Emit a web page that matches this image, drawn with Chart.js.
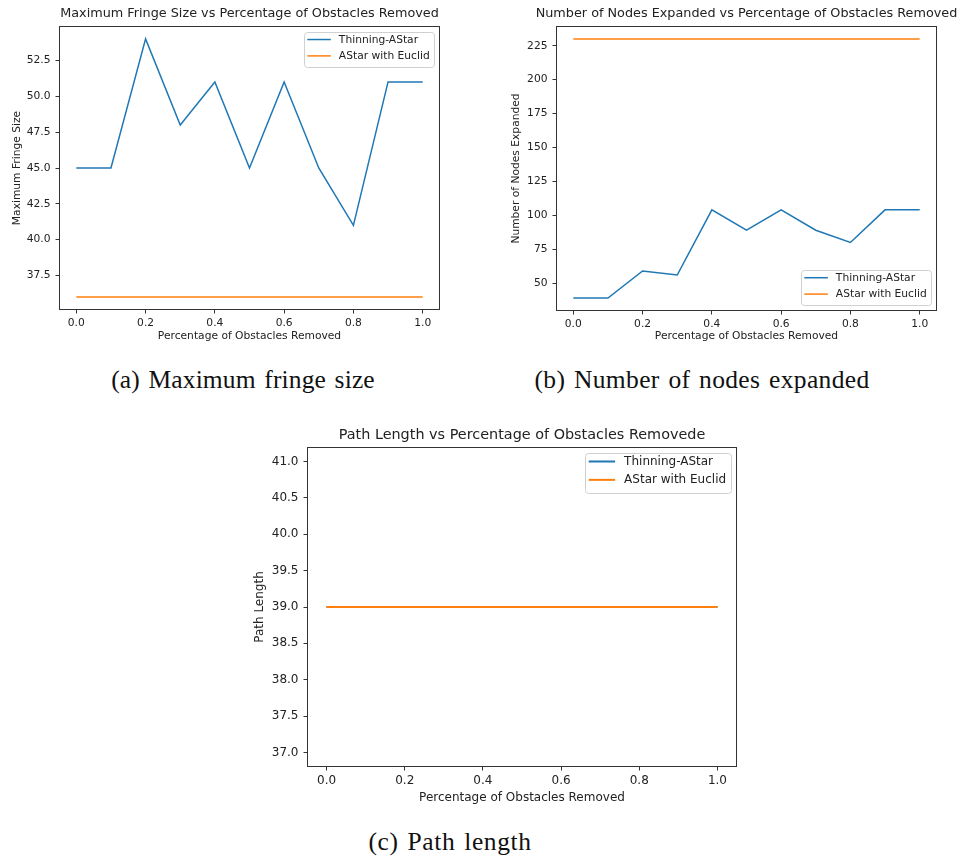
<!DOCTYPE html>
<html>
<head>
<meta charset="utf-8">
<script src="https://cdn.jsdelivr.net/npm/chart.js@4"></script>
<style>
  body { margin: 0; background: #fff; width: 961px; height: 857px; position: relative; overflow: hidden; }
  canvas { position: absolute; }
  .cap { position: absolute; width: 400px; text-align: center; font-family: "Liberation Serif", serif;
         font-size: 25.5px; line-height: 30px; color: #111; word-spacing: 2px; }
</style>
</head>
<body>
<canvas id="fringe" width="480" height="345" style="left:0;top:0"></canvas>
<canvas id="nodes" width="481" height="345" style="left:480px;top:0"></canvas>
<canvas id="path" width="520" height="390" style="left:230px;top:420px"></canvas>
<div class="cap" style="left:43px;top:365px;letter-spacing:0.15px">(a) Maximum fringe size</div>
<div class="cap" style="left:502px;top:365px;letter-spacing:0.35px">(b) Number of nodes expanded</div>
<div class="cap" style="left:250px;top:827px;letter-spacing:0.6px">(c) Path length</div>
<script>
// data
var pct = [0.0, 0.1, 0.2, 0.3, 0.4, 0.5, 0.6, 0.7, 0.8, 0.9, 1.0];
var fringeThinning = [45, 45, 54, 48, 51, 45, 51, 45, 41, 51, 51];
var fringeEuclid = [36, 36, 36, 36, 36, 36, 36, 36, 36, 36, 36];
var nodesThinning = [39, 39, 59, 56, 104, 89, 104, 89, 80, 104, 104];
var nodesEuclid = [230, 230, 230, 230, 230, 230, 230, 230, 230, 230, 230];
var pathThinning = [39, 39, 39, 39, 39, 39, 39, 39, 39, 39, 39];
var pathEuclid = [39, 39, 39, 39, 39, 39, 39, 39, 39, 39, 39];

var xTicks = [0.0, 0.2, 0.4, 0.6, 0.8, 1.0];
var fringeTicks = [37.5, 40.0, 42.5, 45.0, 47.5, 50.0, 52.5];
var nodesTicks = [50, 75, 100, 125, 150, 175, 200, 225];
var pathTicks = [37.0, 37.5, 38.0, 38.5, 39.0, 39.5, 40.0, 40.5, 41.0];

var seriesNames = ["Thinning-AStar", "AStar with Euclid"];
var BLUE = "#1f77b4", ORANGE = "#ff7f0e", INK = "#222";

Chart.defaults.font.family = "DejaVu Sans";
Chart.defaults.color = INK;

// frame, axes title and matplotlib style legend
var mplBox = {
  id: "mplBox",
  afterDraw: function(chart, args, o) {
    var ctx = chart.ctx, a = chart.chartArea;
    ctx.save();
    ctx.strokeStyle = "#333";
    ctx.lineWidth = 1;
    ctx.strokeRect(Math.round(a.left) + 0.5, Math.round(a.top) + 0.5,
                   Math.round(a.right - a.left) - 1, Math.round(a.bottom - a.top) - 1);

    ctx.fillStyle = INK;
    ctx.font = o.titleSize + "px 'DejaVu Sans'";
    ctx.textAlign = "center";
    ctx.textBaseline = "middle";
    ctx.fillText(o.title, (a.left + a.right) / 2, o.titleY);

    var fs = o.fontSize;
    ctx.font = fs + "px 'DejaVu Sans'";
    var ds = chart.data.datasets;
    var tw = 0;
    ds.forEach(function(d) { tw = Math.max(tw, ctx.measureText(d.label).width); });
    var padL = 0.3 * fs, handle = 2.2 * fs, gap = 0.75 * fs, padR = 0.45 * fs;
    var w = padL + handle + gap + tw + padR, h = 3.3 * fs;
    var x = a.right - 5.5 - w;
    var y = o.legend == "lower" ? a.bottom - 6 - h : a.top + 5.5;
    ctx.beginPath();
    ctx.roundRect(Math.round(x) + 0.5, Math.round(y) + 0.5, Math.round(w), Math.round(h), 3);
    ctx.fillStyle = "rgba(255,255,255,0.8)";
    ctx.fill();
    ctx.strokeStyle = "#d0d0d0";
    ctx.stroke();
    ds.forEach(function(d, i) {
      var ly = y + 0.75 * fs + i * 1.53 * fs;
      ctx.strokeStyle = d.borderColor;
      ctx.lineWidth = d.borderWidth;
      ctx.beginPath();
      ctx.moveTo(x + padL, ly);
      ctx.lineTo(x + padL + handle, ly);
      ctx.stroke();
      ctx.fillStyle = INK;
      ctx.textAlign = "left";
      ctx.textBaseline = "middle";
      ctx.fillText(d.label, x + padL + handle + gap, ly + 0.5);
    });
    ctx.restore();
  }
};

function pts(arr) {
  return pct.map(function(x, i) { return {x: x, y: arr[i]}; });
}

function makeChart(id, cfg) {
  var fs = cfg.fontSize;
  var font = {size: fs, family: "DejaVu Sans"};
  return new Chart(document.getElementById(id), {
    type: "line",
    data: {
      datasets: [
        {label: seriesNames[0], data: pts(cfg.a), borderColor: BLUE, borderWidth: cfg.lw, order: 1},
        {label: seriesNames[1], data: pts(cfg.b), borderColor: ORANGE, borderWidth: cfg.lw, order: 0}
      ]
    },
    options: {
      responsive: false,
      animation: false,
      events: [],
      layout: {padding: {top: cfg.top, right: cfg.right, left: 0, bottom: 0}},
      elements: {point: {radius: 0}, line: {tension: 0}},
      plugins: {
        legend: {display: false},
        tooltip: {enabled: false},
        mplBox: {title: cfg.title, titleSize: cfg.titleSize, titleY: cfg.titleY, fontSize: fs, legend: cfg.legend}
      },
      scales: {
        x: {
          type: "linear", min: -0.05, max: 1.05,
          afterBuildTicks: function(s) { s.ticks = xTicks.map(function(v) { return {value: v}; }); },
          afterFit: function(s) { s.height = cfg.xh; },
          ticks: {font: font, color: INK, padding: 3, maxRotation: 0, autoSkip: false,
                  callback: function(v) { return v.toFixed(1); }},
          grid: {drawOnChartArea: false, tickLength: 3.5, tickColor: "#333"},
          border: {display: false},
          title: {display: true, text: "Percentage of Obstacles Removed", font: font, color: INK,
                  padding: {top: 0, bottom: cfg.xTitlePad}}
        },
        y: {
          min: cfg.ymin, max: cfg.ymax,
          afterBuildTicks: function(s) { s.ticks = cfg.yTicks.map(function(v) { return {value: v}; }); },
          afterFit: function(s) { s.width = cfg.left; },
          ticks: {font: font, color: INK, padding: 5,
                  callback: function(v) { return cfg.yDec ? v.toFixed(cfg.yDec) : String(v); }},
          grid: {drawOnChartArea: false, tickLength: 3.5, tickColor: "#333"},
          border: {display: false},
          title: {display: true, text: cfg.ylabel, font: font, color: INK,
                  padding: {top: cfg.yTitlePad, bottom: 0}}
        }
      }
    },
    plugins: [mplBox]
  });
}

makeChart("fringe", {
  a: fringeThinning, b: fringeEuclid, yTicks: fringeTicks, yDec: 1, ymin: 35.1, ymax: 54.9,
  title: "Maximum Fringe Size vs Percentage of Obstacles Removed", ylabel: "Maximum Fringe Size",
  fontSize: 10.7, titleSize: 12.8, titleY: 14, lw: 1.5, legend: "upper",
  top: 26, right: 40, left: 59, xh: 35, xTitlePad: 2, yTitlePad: 11
});

makeChart("nodes", {
  a: nodesThinning, b: nodesEuclid, yTicks: nodesTicks, yDec: 0, ymin: 29.45, ymax: 239.55,
  title: "Number of Nodes Expanded vs Percentage of Obstacles Removed", ylabel: "Number of Nodes Expanded",
  fontSize: 10.7, titleSize: 12.8, titleY: 14, lw: 1.5, legend: "lower",
  top: 26, right: 24, left: 76, xh: 34, xTitlePad: 2, yTitlePad: 29.5
});

makeChart("path", {
  a: pathThinning, b: pathEuclid, yTicks: pathTicks, yDec: 1, ymin: 36.8, ymax: 41.2,
  title: "Path Length vs Percentage of Obstacles Removede", ylabel: "Path Length",
  fontSize: 12, titleSize: 14.4, titleY: 15, lw: 2, legend: "upper",
  top: 27, right: 13, left: 77, xh: 43, xTitlePad: 5, yTitlePad: 23
});
</script>
</body>
</html>
